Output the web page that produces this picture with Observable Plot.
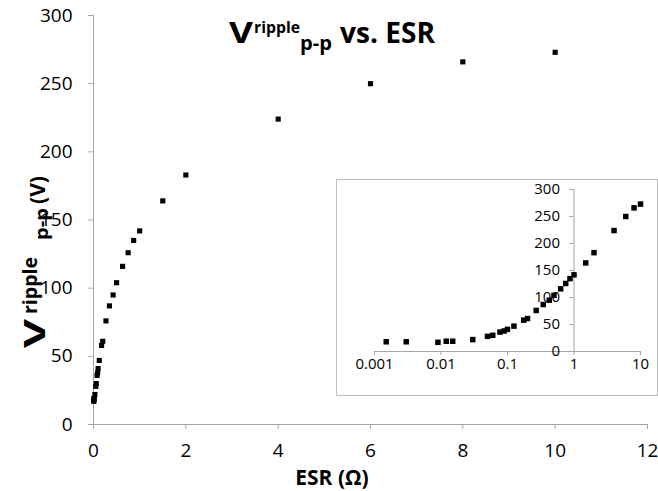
<!DOCTYPE html>
<html><head><meta charset="utf-8">
<script src="https://cdn.jsdelivr.net/npm/d3@7"></script>
<script src="https://cdn.jsdelivr.net/npm/@observablehq/plot@0.6"></script>
<style>
html,body{margin:0;padding:0;background:#fff;}
#wrap{position:relative;width:658px;height:491px;overflow:hidden;font-family:"Open Sans",sans-serif;}
#wrap svg{position:absolute;display:block;}
</style></head><body><div id="wrap"></div>
<script>
// ESR (ohm) and peak-to-peak ripple voltage (V)
const esr = [0.0015, 0.003, 0.009, 0.012, 0.015, 0.03, 0.05, 0.06, 0.077, 0.089, 0.1, 0.125, 0.175, 0.2, 0.27, 0.345, 0.425, 0.5, 0.63, 0.75, 0.87, 1, 1.5, 2, 4, 6, 8, 10];
const vpp = [18, 18, 17, 19, 19, 22, 28, 30, 36, 38, 41, 47, 58, 61, 76, 87, 95, 104, 116, 126, 135, 142, 164, 183, 224, 250, 266, 273];
const xTicksMain = [0, 2, 4, 6, 8, 10, 12];
const yTicksMain = [0, 50, 100, 150, 200, 250, 300];
const xTicksInset = [0.001, 0.01, 0.1, 1, 10];
const xTickLabelsInset = ["0.001", "0.01", "0.1", "1", "10"];
const yTicksInset = [0, 50, 100, 150, 200, 250, 300];

const axisGray = "#a6a6a6";
const data = esr.map((x, i) => ({esr: x, vpp: vpp[i]}));
const wrap = document.getElementById("wrap");

const main = Plot.plot({
  width: 658, height: 491,
  marginLeft: 93, marginRight: 11, marginTop: 15, marginBottom: 67,
  style: {fontFamily: "Open Sans", fontSize: "19px", color: "black", background: "white"},
  x: {domain: [0, 12]},
  y: {domain: [0, 300]},
  marks: [
    Plot.ruleY([0], {stroke: axisGray}),
    Plot.ruleX([0], {stroke: axisGray}),
    Plot.axisX(xTicksMain, {tickSize: 5, tickPadding: 14, stroke: axisGray, fill: "black", label: null}),
    Plot.axisY(yTicksMain, {tickSize: 5, tickPadding: 16, stroke: axisGray, fill: "black", label: null}),
    Plot.dot(data, {x: "esr", y: "vpp", symbol: "square", r: 2.9, fill: "black"})
  ]
});
main.style.left = "0px"; main.style.top = "0px";
wrap.appendChild(main);

const inset = Plot.plot({
  width: 320, height: 215,
  marginLeft: 37, marginRight: 17, marginTop: 9, marginBottom: 44,
  style: {fontFamily: "Open Sans", fontSize: "15px", color: "black", background: "white", border: "1px solid #bfbfbf"},
  x: {type: "log", domain: [0.001, 10]},
  y: {domain: [0, 300], axis: null},
  marks: [
    Plot.ruleY([0], {stroke: axisGray}),
    Plot.axisX(xTicksInset, {tickSize: 4, tickPadding: 3, stroke: axisGray, fill: "black", label: null,
      tickFormat: d => xTickLabelsInset[xTicksInset.indexOf(d)]}),
    Plot.ruleX([1], {stroke: axisGray}),
    Plot.ruleY(yTicksInset, {y: d => d, x1: 1, x2: 0.86, stroke: axisGray}),
    Plot.text(yTicksInset, {x: 1, y: d => d, text: d => String(d), textAnchor: "end", dx: -14, fill: "black", fontSize: 15}),
    Plot.dot(data, {x: "esr", y: "vpp", symbol: "square", r: 3.1, fill: "black"})
  ]
});
inset.style.left = "336px"; inset.style.top = "179px";
wrap.appendChild(inset);

// Title and axis titles (with superscript / subscript)
const over = d3.create("svg").attr("width", 658).attr("height", 491)
  .style("left", "0px").style("top", "0px").style("pointer-events", "none")
  .attr("font-family", "Open Sans").attr("font-weight", "bold").attr("fill", "black");

function piece(parent, txt, x, y, size, len) {
  const t = parent.append("text").attr("x", x).attr("y", y).attr("font-size", size).text(txt);
  if (len) t.attr("textLength", len).attr("lengthAdjust", "spacingAndGlyphs");
  return t;
}

const title = over.append("g");
piece(title, "V", 229, 43, 28, 24);
piece(title, "ripple", 254, 33, 16.5, 46);
piece(title, "p-p", 300, 50, 19, 32);
piece(title, "vs. ESR", 340, 43, 28, 95);

const ylab = over.append("g").attr("transform", "translate(45,348) rotate(-90)");
piece(ylab, "V", 0, 0, 28, 29);
piece(ylab, "ripple", 34, -8, 19, 57);
piece(ylab, "p-p", 108, 3, 18, 32);
piece(ylab, "(V)", 144, 0, 21, 28);

over.append("text").attr("x", 332).attr("y", 485).attr("text-anchor", "middle")
  .attr("font-size", 21).text("ESR (Ω)");

wrap.appendChild(over.node());
</script>
</body></html>
